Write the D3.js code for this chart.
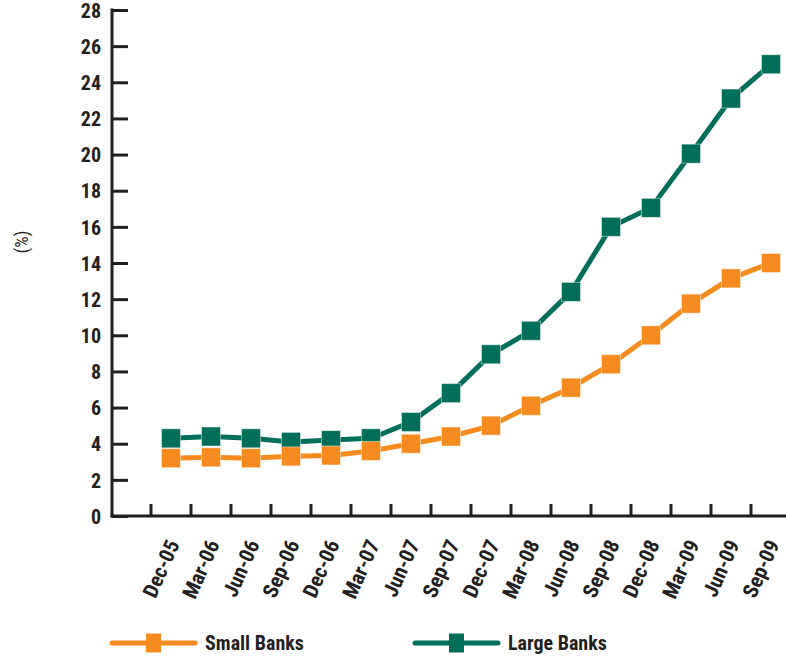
<!DOCTYPE html>
<html>
<head>
<meta charset="utf-8">
<script src="https://cdn.jsdelivr.net/npm/d3@7"></script>
<style>
  html, body { margin: 0; padding: 0; background: #fff; }
  svg { display: block; }
  text { font-family: "Roboto Condensed", "Liberation Sans Narrow", "Arial Narrow", sans-serif; font-weight: bold; fill: #231f20; }
</style>
</head>
<body>
<svg id="chart" width="786" height="658"></svg>
<script>
// Quarter-end dates
const quarters = ["Dec-05","Mar-06","Jun-06","Sep-06","Dec-06","Mar-07","Jun-07","Sep-07",
                  "Dec-07","Mar-08","Jun-08","Sep-08","Dec-08","Mar-09","Jun-09","Sep-09"];
// Share (%) by bank size
const smallBanks = [3.2, 3.25, 3.2, 3.3, 3.35, 3.6, 4.0, 4.4, 5.0, 6.1, 7.1, 8.4, 10.0, 11.75, 13.15, 14.0];
const largeBanks = [4.3, 4.4, 4.3, 4.1, 4.2, 4.3, 5.2, 6.8, 8.95, 10.25, 12.4, 16.0, 17.05, 20.05, 23.1, 25.0];
const yTicks = d3.range(0, 29, 2);

const seriesList = [
  { name: "Small Banks", values: smallBanks, color: "#f58a1f" },
  { name: "Large Banks", values: largeBanks, color: "#006f5a" }
];

const svg = d3.select("#chart");
const axisColor = "#231f20";
const fontStack = "'Roboto Condensed', 'Liberation Sans Narrow', 'Arial Narrow', sans-serif";
const plotLeft = 112, plotBottom = 516, plotTop = 10;

const x = d3.scaleBand().domain(quarters).range([151, 791]);
const y = d3.scaleLinear().domain([0, 28]).range([plotBottom, plotTop]);
const cx = d => x(d) + x.bandwidth() / 2;

// Y axis: ticks point inward to the plot
const yAxis = svg.append("g").attr("transform", `translate(${plotLeft},0)`)
  .call(d3.axisRight(y).tickValues(yTicks).tickSize(16).tickFormat(d3.format("d")));
yAxis.select(".domain").remove();
yAxis.selectAll(".tick line").attr("stroke", axisColor).attr("stroke-width", 3);
yAxis.selectAll(".tick text")
  .attr("x", -11).attr("dy", "0.36em").attr("text-anchor", "end")
  .style("font-size", "20px")
  .style("font-family", fontStack)
  .style("font-weight", "bold")
  .attr("fill", axisColor);
svg.append("line").attr("x1", plotLeft).attr("x2", plotLeft).attr("y1", plotTop - 1.5).attr("y2", plotBottom + 1.5)
  .attr("stroke", axisColor).attr("stroke-width", 3);

// X axis: ticks at the left edge of each quarter band, pointing up
svg.append("line").attr("x1", plotLeft - 1.5).attr("x2", 786).attr("y1", plotBottom).attr("y2", plotBottom)
  .attr("stroke", axisColor).attr("stroke-width", 3);
svg.append("g").selectAll("line").data(quarters).join("line")
  .attr("x1", d => x(d)).attr("x2", d => x(d))
  .attr("y1", plotBottom).attr("y2", plotBottom - 12)
  .attr("stroke", axisColor).attr("stroke-width", 3);
svg.append("g").selectAll("text").data(quarters).join("text")
  .attr("transform", d => `translate(${cx(d) + 9},${plotBottom + 28}) rotate(-66)`)
  .attr("text-anchor", "end")
  .style("font-size", "21px")
  .text(d => d);

// Y axis title
svg.append("text")
  .attr("transform", "translate(22,242) rotate(-90)")
  .attr("text-anchor", "middle").attr("dy", "0.35em")
  .style("font-size", "18px").style("font-weight", "normal")
  .text("(%)");

// Series lines and square markers
const line = d3.line().x((v, i) => cx(quarters[i])).y(v => y(v));
const mk = 19;
seriesList.slice().reverse().forEach(s => {
  svg.append("path").datum(s.values).attr("d", line)
    .attr("fill", "none").attr("stroke", s.color).attr("stroke-width", 5);
  svg.append("g").selectAll("rect").data(s.values).join("rect")
    .attr("x", (v, i) => cx(quarters[i]) - mk / 2)
    .attr("y", v => y(v) - mk / 2)
    .attr("width", mk).attr("height", mk)
    .attr("fill", s.color)
    .attr("stroke", "#ffffff").attr("stroke-opacity", 0.45).attr("stroke-width", 1);
});

// Legend
const legendX = [112, 415];
seriesList.forEach((s, i) => {
  const g = svg.append("g").attr("transform", `translate(${legendX[i]},643)`);
  g.append("line").attr("x1", 0).attr("x2", 83).attr("y1", 0).attr("y2", 0)
    .attr("stroke", s.color).attr("stroke-width", 5).attr("stroke-linecap", "round");
  g.append("rect").attr("x", 34).attr("y", -9.5).attr("width", 15).attr("height", 19).attr("fill", s.color);
  g.append("text").attr("x", 93).attr("y", 0).attr("dy", "0.36em")
    .style("font-size", "20px").text(s.name);
});
</script>
</body>
</html>
